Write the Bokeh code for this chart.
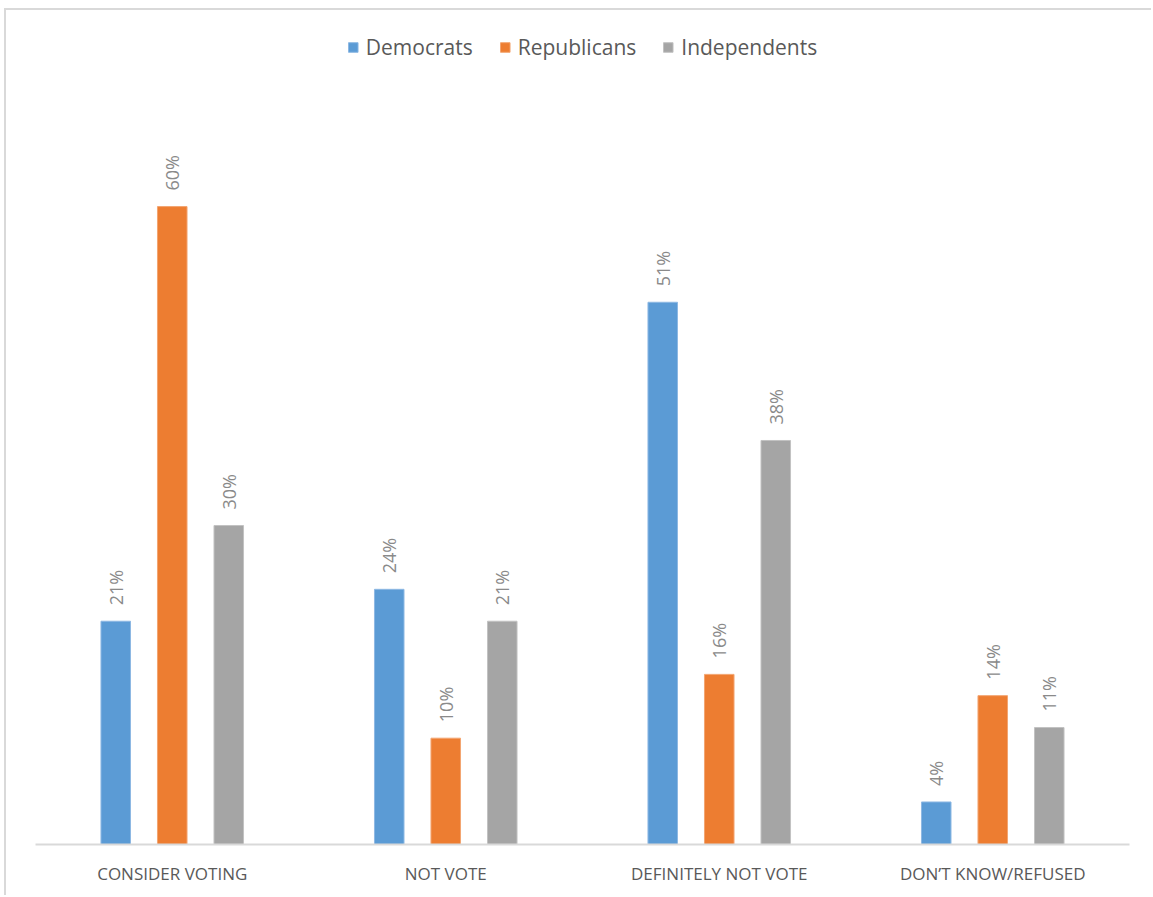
import math
from bokeh.plotting import figure
from bokeh.models import ColumnDataSource, FactorRange, Range1d, Legend, LegendItem
from bokeh.transform import dodge
from bokeh.core.properties import value
from bokeh.embed import file_html
from bokeh.resources import INLINE

categories = ["CONSIDER VOTING", "NOT VOTE", "DEFINITELY NOT VOTE", "DON\u2019T KNOW/REFUSED"]
democrats = [21, 24, 51, 4]
republicans = [60, 10, 16, 14]
independents = [30, 21, 38, 11]
series_names = ["Democrats", "Republicans", "Independents"]
colors = ["#5B9BD5", "#ED7D31", "#A5A5A5"]
edge_colors = ["#8db8e3", "#f3a571", "#c2c2c2"]

FONT = "Open Sans"

src = ColumnDataSource(dict(
    cat=categories,
    dem=democrats, rep=republicans, ind=independents,
    dem_l=[f"{v}%" for v in democrats],
    rep_l=[f"{v}%" for v in republicans],
    ind_l=[f"{v}%" for v in independents],
))

p = figure(width=1147, height=887, x_range=FactorRange(factors=categories, range_padding=0),
           y_range=Range1d(0, 77.5), output_backend="svg", toolbar_location=None,
           min_border_left=29, min_border_right=24, min_border_top=10, min_border_bottom=53)
p.outline_line_color = None
p.xgrid.grid_line_color = None
p.ygrid.grid_line_color = None
p.yaxis.visible = False
p.xaxis.axis_line_color = "#d9d9d9"
p.xaxis.axis_line_width = 2
p.xaxis.major_tick_line_color = None
p.xaxis.minor_tick_line_color = None
p.xaxis.major_label_standoff = 11
p.xaxis.major_label_text_font = FONT
p.xaxis.major_label_text_font_size = "17px"
p.xaxis.major_label_text_color = "#595959"

offsets = [-0.2066, 0.0, 0.2066]
cols = ["dem", "rep", "ind"]
items = []
for off, col, name, c, ec in zip(offsets, cols, series_names, colors, edge_colors):
    r = p.vbar(x=dodge("cat", off, range=p.x_range), top=col, width=0.108, source=src,
               fill_color=c, line_color=ec, line_width=1)
    items.append(LegendItem(label=name, renderers=[r]))
    p.text(x=dodge("cat", off, range=p.x_range), y=col, text=col + "_l", source=src,
           angle=math.pi / 2, text_align="left", text_baseline="middle",
           x_offset=0, y_offset=-16, text_font=value(FONT), text_font_size="18px",
           text_color="#8a8a8a")

legend = Legend(items=items, location="top_center", orientation="horizontal",
                label_text_font=FONT, label_text_font_size="21px", label_text_color="#595959",
                glyph_width=12, glyph_height=12, spacing=26, label_standoff=7,
                border_line_color=None, background_fill_alpha=0, margin=13, padding=6)
p.add_layout(legend, "center")

p.styles = {"border-top": "2px solid #d9d9d9", "border-left": "2px solid #d9d9d9"}
p.margin = (8, 0, 0, 4)

open("out.html", "w").write(file_html(p, INLINE))
